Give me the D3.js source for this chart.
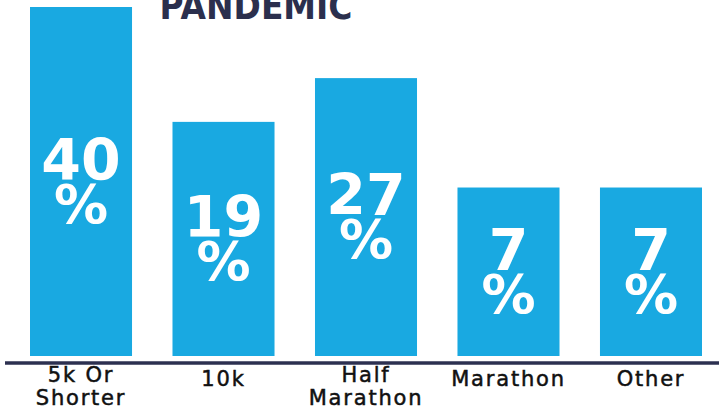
<!DOCTYPE html>
<html><head><meta charset="utf-8">
<script src="https://cdn.jsdelivr.net/npm/d3@7"></script>
<style>html,body{margin:0;padding:0;background:#fff;overflow:hidden}</style>
</head><body>
<svg id="c" width="719" height="411"></svg>
<script>
const title = "PANDEMIC";
const categories = ["5k Or\nShorter", "10k", "Half\nMarathon", "Marathon", "Other"];
const values = [40, 19, 27, 7, 7];
const valueLabels = ["40", "19", "27", "7", "7"];

const svg = d3.select("#c");
const baseline = 356;
const x = d3.scaleBand().domain(categories).range([30, 702]).paddingInner(0.284).paddingOuter(0);
const y = d3.scaleLinear().domain([-23.8, 40]).range([baseline, 7]);

svg.append("text").text(title)
  .attr("x", 256).attr("y", 19).attr("text-anchor", "middle")
  .attr("textLength", 193).attr("lengthAdjust", "spacingAndGlyphs")
  .style("font-family", "'DejaVu Sans', sans-serif").style("font-weight", "bold")
  .style("font-size", "37px").style("fill", "#2B2F4D");

const g = svg.selectAll("g.bar").data(values).join("g").attr("class", "bar");
g.append("rect")
  .attr("x", (d, i) => x(categories[i]))
  .attr("y", d => y(d))
  .attr("width", x.bandwidth())
  .attr("height", d => baseline - y(d))
  .attr("fill", "#19A9E1");

const lbl = g.append("text")
  .attr("text-anchor", "middle")
  .style("font-family", "'DejaVu Sans', sans-serif").style("font-weight", "bold")
  .style("font-size", "57px").style("fill", "#fff");
lbl.append("tspan")
  .attr("x", (d, i) => x(categories[i]) + x.bandwidth() / 2)
  .attr("y", d => (y(d) + baseline) / 2 - 2)
  .text((d, i) => valueLabels[i]);
lbl.append("tspan")
  .attr("x", (d, i) => x(categories[i]) + x.bandwidth() / 2)
  .attr("y", d => (y(d) + baseline) / 2 + 41)
  .style("font-size", "54px")
  .text("%");

svg.append("line").attr("x1", 5).attr("x2", 719).attr("y1", 363).attr("y2", 363)
  .attr("stroke", "#2C3050").attr("stroke-width", 3.5);

categories.forEach(c => {
  const lines = c.split("\n");
  const t = svg.append("text").attr("text-anchor", "middle")
    .style("font-family", "'DejaVu Sans', sans-serif").style("font-weight", "normal")
    .style("font-size", "21px").style("letter-spacing", "1.8px").style("fill", "#111")
    .style("stroke", "#111").style("stroke-width", "0.5px");
  lines.forEach((l, j) => {
    t.append("tspan").attr("x", x(c) + x.bandwidth() / 2)
      .attr("y", (lines.length > 1 ? 382 : 386) + j * 23).text(l);
  });
});
</script>
</body></html>
